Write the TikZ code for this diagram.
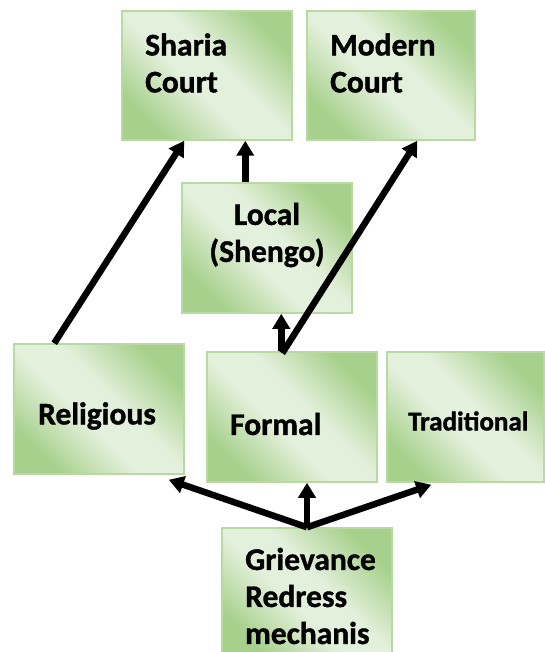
\documentclass[tikz,border=0pt]{standalone}
\usepackage{fontspec}
\setmainfont{Carlito}[BoldFeatures={FakeBold=1.2}]
\usetikzlibrary{arrows.meta, positioning, calc, shadings}
\definecolor{gdark}{RGB}{166,208,139}
\definecolor{glight}{RGB}{227,240,219}
\pgfdeclarehorizontalshading{greenbox}{100bp}{color(0bp)=(gdark); color(25bp)=(gdark); color(44bp)=(glight); color(56bp)=(glight); color(75bp)=(gdark); color(100bp)=(gdark)}
\tikzset{
        box/.style={rectangle, draw=gdark!80, line width=1.5pt, shading=greenbox, shading angle=45, minimum width=170pt, minimum height=130pt, inner sep=0pt},
        lbl/.style={font=\fontsize{31.5}{37}\selectfont\bfseries, align=left, inner sep=0pt, anchor=west},
        arrow/.style={-{Triangle[length=15pt,width=17pt]}, line width=6.5pt},
    }

\begin{document}
\begin{tikzpicture}[x=1pt, y=-1pt]
        \useasboundingbox (0,0) rectangle (544,652);

        % === COURTS ===
        \node[box, minimum height=129pt] (sharia) at (207,75.5) {};
        \node[box, minimum width=168pt, minimum height=129pt] (modern) at (391,75.5) {};
        \node[lbl] (shariatxt) at (145,63) {Sharia\\Court};
        \node[lbl] (moderntxt) at (330,63) {Modern\\Court};

        % === LOCAL ===
        \node[box] (local) at (267,248) {};
        \node[lbl, align=center, anchor=center] (localtxt) at (267,235) {Local\\(Shengo)};

        % === MECHANISMS ===
        \node[box] (religious) at (99,409) {};
        \node[box] (formal) at (292,417) {};
        \node[box, minimum width=157pt] (traditional) at (465.5,417) {};
        \node[lbl, anchor=center] (religioustxt) at (97,416) {Religious};
        \node[lbl] (formaltxt) at (230,424) {Formal};
        \node[lbl, font=\fontsize{27}{30}\selectfont\bfseries] (traditionaltxt) at (408,421) {Traditional};

        % === GRIEVANCE ===
        \node[box] (grievance) at (307,593) {};
        \node[lbl] (grievancetxt) at (245,596) {Grievance\\Redress\\mechanis};

        % arrows up to the courts
        \draw[arrow] ($(religious.north west)+(41,0)$) -- ($(sharia.south west)+(63,0)$);
        \draw[arrow] ($(local.north west)+(64,0)$) -- ($(sharia.south west)+(124,0)$);
        \draw[arrow] ($(formal.north west)+(75,0)$) -- ($(local.south west)+(100,0)$);
        \draw[arrow] ($(formal.north west)+(76,2)$) -- ($(modern.south west)+(111,0)$);

        % arrows from grievance
        \draw[arrow] (grievance.north) -- ($(religious.south east)+(-16,5)$);
        \draw[arrow] (grievance.north) -- (grievance.north |- formal.south);
        \draw[arrow] (grievance.north) -- ($(traditional.south west)+(45,2)$);

\end{tikzpicture}
\end{document}
